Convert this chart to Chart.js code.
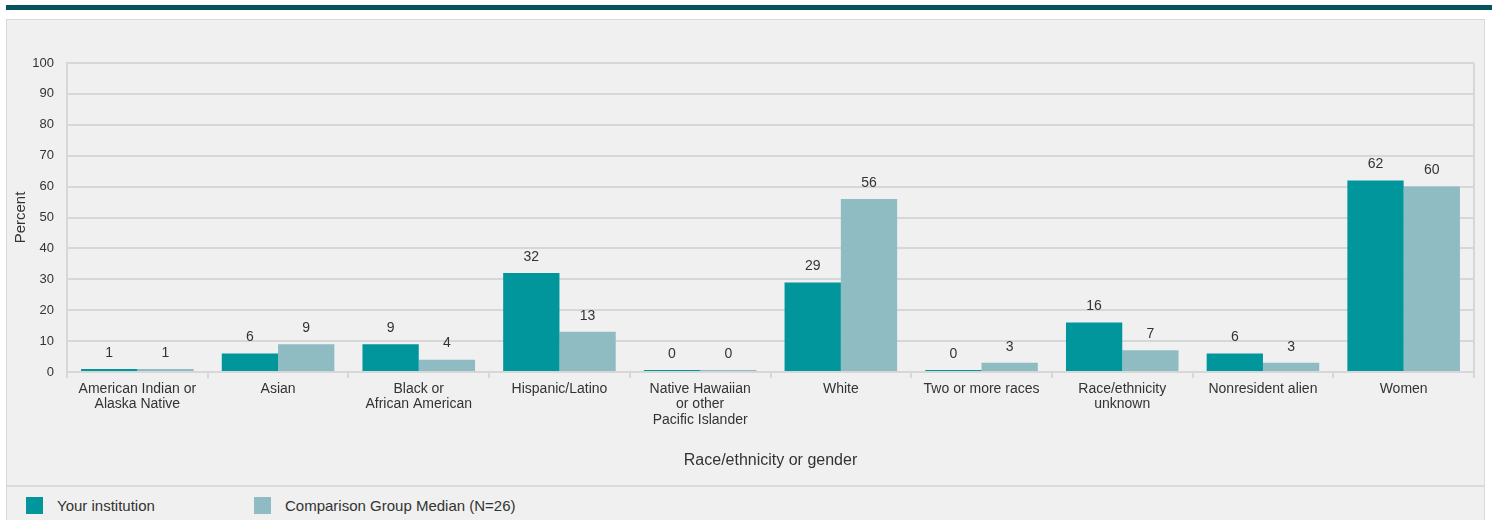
<!DOCTYPE html>
<html>
<head>
<meta charset="utf-8">
<script src="https://cdn.jsdelivr.net/npm/chart.js@4/dist/chart.umd.min.js"></script>
<style>
  html, body { margin: 0; padding: 0; background: #ffffff; width: 1492px; height: 520px; overflow: hidden; font-family: "Liberation Sans", Arial, Helvetica, sans-serif; }
  #topbar { position: absolute; left: 6px; top: 5px; width: 1486px; height: 5px; background: #02555c; }
  #panel { position: absolute; left: 6px; top: 19px; width: 1479px; height: 510px; background: #eff0ef; border: 1.5px solid #d7d8d7; box-sizing: border-box; }
  #chartbox { position: absolute; left: 0px; top: 0px; width: 1479px; height: 465px; }
  #sep { position: absolute; left: 0; top: 465px; width: 100%; height: 2px; background: #d9dad9; }
  .leg { position: absolute; top: 477px; height: 17px; display: flex; align-items: center; font-size: 15px; color: #333; }
  .sw { width: 17px; height: 17px; margin-right: 14px; }
</style>
</head>
<body>
<div id="topbar"></div>
<div id="panel">
  <div id="chartbox"><canvas id="c"></canvas></div>
  <div id="sep"></div>
  <div class="leg" style="left:19px"><div class="sw" style="background:#00969b"></div><span>Your institution</span></div>
  <div class="leg" style="left:247px"><div class="sw" style="background:#8fbcc3"></div><span>Comparison Group Median (N=26)</span></div>
</div>
<script>
const categories = [
  ["American Indian or", "Alaska Native"],
  ["Asian"],
  ["Black or", "African American"],
  ["Hispanic/Latino"],
  ["Native Hawaiian", "or other", "Pacific Islander"],
  ["White"],
  ["Two or more races"],
  ["Race/ethnicity", "unknown"],
  ["Nonresident alien"],
  ["Women"]
];
const yourInstitution = [1, 6, 9, 32, 0, 29, 0, 16, 6, 62];
const comparisonMedian = [1, 9, 4, 13, 0, 56, 3, 7, 3, 60];
const seriesNames = ["Your institution", "Comparison Group Median (N=26)"];
const yTicks = [0, 10, 20, 30, 40, 50, 60, 70, 80, 90, 100];

const FONT = '"Liberation Sans", Arial, Helvetica, sans-serif';
const GRID = '#d6d7d6';
const TEXT = '#333333';

const valueLabels = {
  id: 'valueLabels',
  afterDatasetsDraw(chart) {
    const ctx = chart.ctx;
    ctx.save();
    ctx.font = '14px ' + FONT;
    ctx.fillStyle = TEXT;
    ctx.textAlign = 'center';
    ctx.textBaseline = 'middle';
    chart.data.datasets.forEach((ds, di) => {
      const meta = chart.getDatasetMeta(di);
      meta.data.forEach((bar, i) => {
        ctx.fillText(String(ds.data[i]), bar.x, bar.y - 16);
      });
    });
    ctx.restore();
  }
};

new Chart(document.getElementById('c'), {
  type: 'bar',
  data: {
    labels: categories,
    datasets: [
      { label: seriesNames[0], data: yourInstitution, backgroundColor: '#00969b', minBarLength: 2 },
      { label: seriesNames[1], data: comparisonMedian, backgroundColor: '#8fbcc3', minBarLength: 2 }
    ]
  },
  options: {
    responsive: true,
    maintainAspectRatio: false,
    animation: false,
    devicePixelRatio: 1,
    categoryPercentage: 0.8,
    barPercentage: 1.0,
    layout: { padding: { top: 43, right: 12, left: 0, bottom: 0 } },
    plugins: { legend: { display: false }, tooltip: { enabled: false } },
    scales: {
      x: {
        afterFit(s) { s.height = 113; },
        grid: {
          offset: true,
          drawOnChartArea: true,
          color: (c) => (c.type === 'tick' && c.index !== 0) ? 'rgba(0,0,0,0)' : GRID,
          tickColor: GRID,
          lineWidth: 2,
          tickLength: 6
        },
        border: { display: true, color: GRID, width: 2 },
        ticks: { color: TEXT, font: { family: FONT, size: 14, lineHeight: 1.12 }, padding: 3, maxRotation: 0, autoSkip: false },
        title: { display: true, text: 'Race/ethnicity or gender', color: TEXT, font: { family: FONT, size: 16, lineHeight: 1.2 }, padding: { top: 0, bottom: 15 } }
      },
      y: {
        min: 0, max: 100,
        afterFit(s) { s.width = 60; },
        afterBuildTicks(s) { s.ticks = yTicks.map(v => ({ value: v })); },
        grid: { color: GRID, lineWidth: 2, drawTicks: false },
        border: { display: true, color: GRID, width: 2 },
        ticks: { color: TEXT, font: { family: FONT, size: 13 }, padding: 13 },
        title: { display: true, text: 'Percent', color: TEXT, font: { family: FONT, size: 15, lineHeight: 1.2 }, padding: { top: 5, bottom: 0 } }
      }
    }
  },
  plugins: [valueLabels]
});
</script>
</body>
</html>
